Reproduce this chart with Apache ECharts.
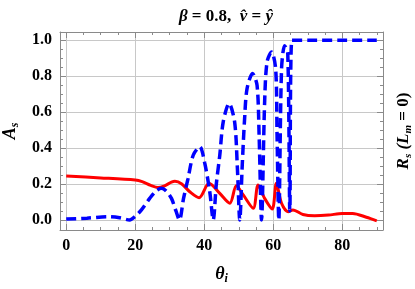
<!DOCTYPE html>
<html><head><meta charset="utf-8">
<script src="https://cdn.jsdelivr.net/npm/echarts@6/dist/echarts.min.js"></script>
<style>html,body{margin:0;padding:0;background:#fff}#c{width:415px;height:289px}</style>
</head><body><div id="c"></div>
<script>
// A_s (blue dashed)
const thetaA = [0, 6, 12, 15.5, 18.4, 20, 21.8, 24.2, 26, 27.6, 29, 30.5, 31.8, 32.8, 34, 35.3, 36.8, 38.7, 40.1, 41.6, 42.6, 43.5, 44.5, 45.5, 47.2, 48.8, 49.6, 50.3, 51, 51.7, 52.4, 54, 55.3, 55.9, 56.6, 57.5, 58.2, 59.5, 60.7, 61.1, 61.6, 62.4, 63.3, 64.2, 64.8, 65.4, 70, 80, 90];
const valA = [0.005, 0.01, 0.018, 0.012, 0.0, 0.02, 0.056, 0.12, 0.16, 0.176, 0.16, 0.12, 0.05, 0.0, 0.12, 0.23, 0.36, 0.407, 0.32, 0.157, 0.0, 0.2, 0.36, 0.546, 0.648, 0.546, 0.29, 0.0, 0.3, 0.565, 0.73, 0.815, 0.75, 0.47, 0.0, 0.657, 0.88, 0.935, 0.84, 0.47, 0.0, 0.84, 0.97, 0.93, 0.05, 1.0, 1.0, 1.0, 1.0];
// R_s (red solid)
const thetaR = [0, 10, 20, 22, 24.5, 26.6, 28.5, 30.5, 31.5, 33.5, 35.8, 38.5, 41.4, 44.5, 47.4, 49.3, 51.3, 54.2, 55.6, 57.5, 59.7, 60.9, 62.4, 64.3, 65.7, 68.6, 72, 76, 80, 83, 87, 90];
const valR = [0.244, 0.234, 0.222, 0.213, 0.192, 0.18, 0.19, 0.21, 0.215, 0.2, 0.157, 0.124, 0.204, 0.148, 0.093, 0.19, 0.139, 0.065, 0.194, 0.12, 0.061, 0.204, 0.093, 0.046, 0.056, 0.03, 0.023, 0.027, 0.036, 0.036, 0.015, -0.005];
// ticks
const xMajor = [0, 20, 40, 60, 80];
const xMinor = [0, 5, 10, 15, 20, 25, 30, 35, 40, 45, 50, 55, 60, 65, 70, 75, 80, 85, 90];
const yMajor = [0, 0.2, 0.4, 0.6, 0.8, 1.0];
const yMinor = [0, 0.05, 0.1, 0.15, 0.2, 0.25, 0.3, 0.35, 0.4, 0.45, 0.5, 0.55, 0.6, 0.65, 0.7, 0.75, 0.8, 0.85, 0.9, 0.95, 1.0];

const FONT = 'Liberation Serif';
const FRAME = '#8a8a8a';
const xMin = -1.8, xMax = 91.8, yMin = -0.056, yMax = 1.046;

function xAx(pos, major, labels, grid) {
  return {
    type: 'value', min: xMin, max: xMax, position: pos,
    axisLine: { show: major, onZero: false, lineStyle: { color: FRAME, width: 1 } },
    axisTick: { show: true, inside: true, length: major ? 6 : 3, customValues: major ? xMajor : xMinor, lineStyle: { color: FRAME } },
    axisLabel: { show: labels, customValues: xMajor, fontFamily: FONT, fontWeight: 'bold', fontSize: 16, color: '#000', margin: 8 },
    splitLine: { show: grid, lineStyle: { color: '#c8c8c8', width: 1 } }
  };
}
function yAx(pos, major, labels, grid) {
  return {
    type: 'value', min: yMin, max: yMax, position: pos,
    axisLine: { show: major, onZero: false, lineStyle: { color: FRAME, width: 1 } },
    axisTick: { show: true, inside: true, length: major ? 6 : 3, customValues: major ? yMajor : yMinor, lineStyle: { color: FRAME } },
    axisLabel: { show: labels, customValues: yMajor, fontFamily: FONT, fontWeight: 'bold', fontSize: 16, color: '#000', margin: 8, formatter: v => v.toFixed(1) },
    splitLine: { show: grid, lineStyle: { color: '#c8c8c8', width: 1 } }
  };
}

const xAxes = [xAx('bottom', true, true, true), xAx('bottom', false, false, false), xAx('top', true, false, false), xAx('top', false, false, false)];
xAxes[0].name = '{t|θ}{s|i}';
xAxes[0].nameLocation = 'middle';
xAxes[0].nameGap = 33;
xAxes[0].nameTextStyle = { rich: { t: { fontFamily: FONT, fontWeight: 'bold', fontStyle: 'italic', fontSize: 18, color: '#000' }, s: { fontFamily: FONT, fontWeight: 'bold', fontStyle: 'italic', fontSize: 12, color: '#000', padding: [10, 0, 0, 0] } } };

const yAxes = [yAx('left', true, true, true), yAx('left', false, false, false), yAx('right', true, false, false), yAx('right', false, false, false)];
yAxes[0].name = '{a|A}{s|s}';
yAxes[0].nameLocation = 'middle';
yAxes[0].nameRotate = 90;
yAxes[0].nameGap = 37;
yAxes[0].nameTextStyle = { rich: { a: { fontFamily: FONT, fontWeight: 'bold', fontStyle: 'italic', fontSize: 18, color: '#000' }, s: { fontFamily: FONT, fontWeight: 'bold', fontStyle: 'italic', fontSize: 12, color: '#000', padding: [10, 0, 0, 0] } } };
yAxes[2].name = '{a|R}{s|s}{a| (}{a|L}{s|m}{b| = 0)}';
yAxes[2].nameLocation = 'middle';
yAxes[2].nameRotate = 90;
yAxes[2].nameGap = 10;
yAxes[2].nameTextStyle = { rich: {
  a: { fontFamily: FONT, fontWeight: 'bold', fontStyle: 'italic', fontSize: 17, color: '#000' },
  b: { fontFamily: FONT, fontWeight: 'bold', fontSize: 17, color: '#000' },
  s: { fontFamily: FONT, fontWeight: 'bold', fontStyle: 'italic', fontSize: 11, color: '#000', padding: [10, 0, 0, 0] } } };

const chart = echarts.init(document.getElementById('c'), null, { renderer: 'canvas' });
chart.setOption({
  animation: false,
  backgroundColor: '#fff',
  title: {
    text: '{g|β}{n| = 0.8,  }{g|v̂}{n| = }{g|ŷ}',
    left: 221, top: 3, textAlign: 'center',
    textStyle: { rich: {
      g: { fontFamily: FONT, fontWeight: 'bold', fontStyle: 'italic', fontSize: 17, color: '#000' },
      n: { fontFamily: FONT, fontWeight: 'bold', fontSize: 17, color: '#000' } } }
  },
  grid: { left: 60, right: 32, top: 32, bottom: 59, containLabel: false, outerBoundsMode: 'none' },
  xAxis: xAxes,
  yAxis: yAxes,
  series: [
    { type: 'line', xAxisIndex: 0, yAxisIndex: 0, data: thetaR.map((t, i) => [t, valR[i]]), smooth: 0.3, showSymbol: false, lineStyle: { color: '#ff0000', width: 3 }, z: 3 },
    { type: 'line', xAxisIndex: 0, yAxisIndex: 0, data: thetaA.map((t, i) => [t, valA[i]]), smooth: 0.3, showSymbol: false, lineStyle: { color: '#0000ff', width: 3.5, type: [10, 5] }, z: 4 }
  ]
});
</script></body></html>
